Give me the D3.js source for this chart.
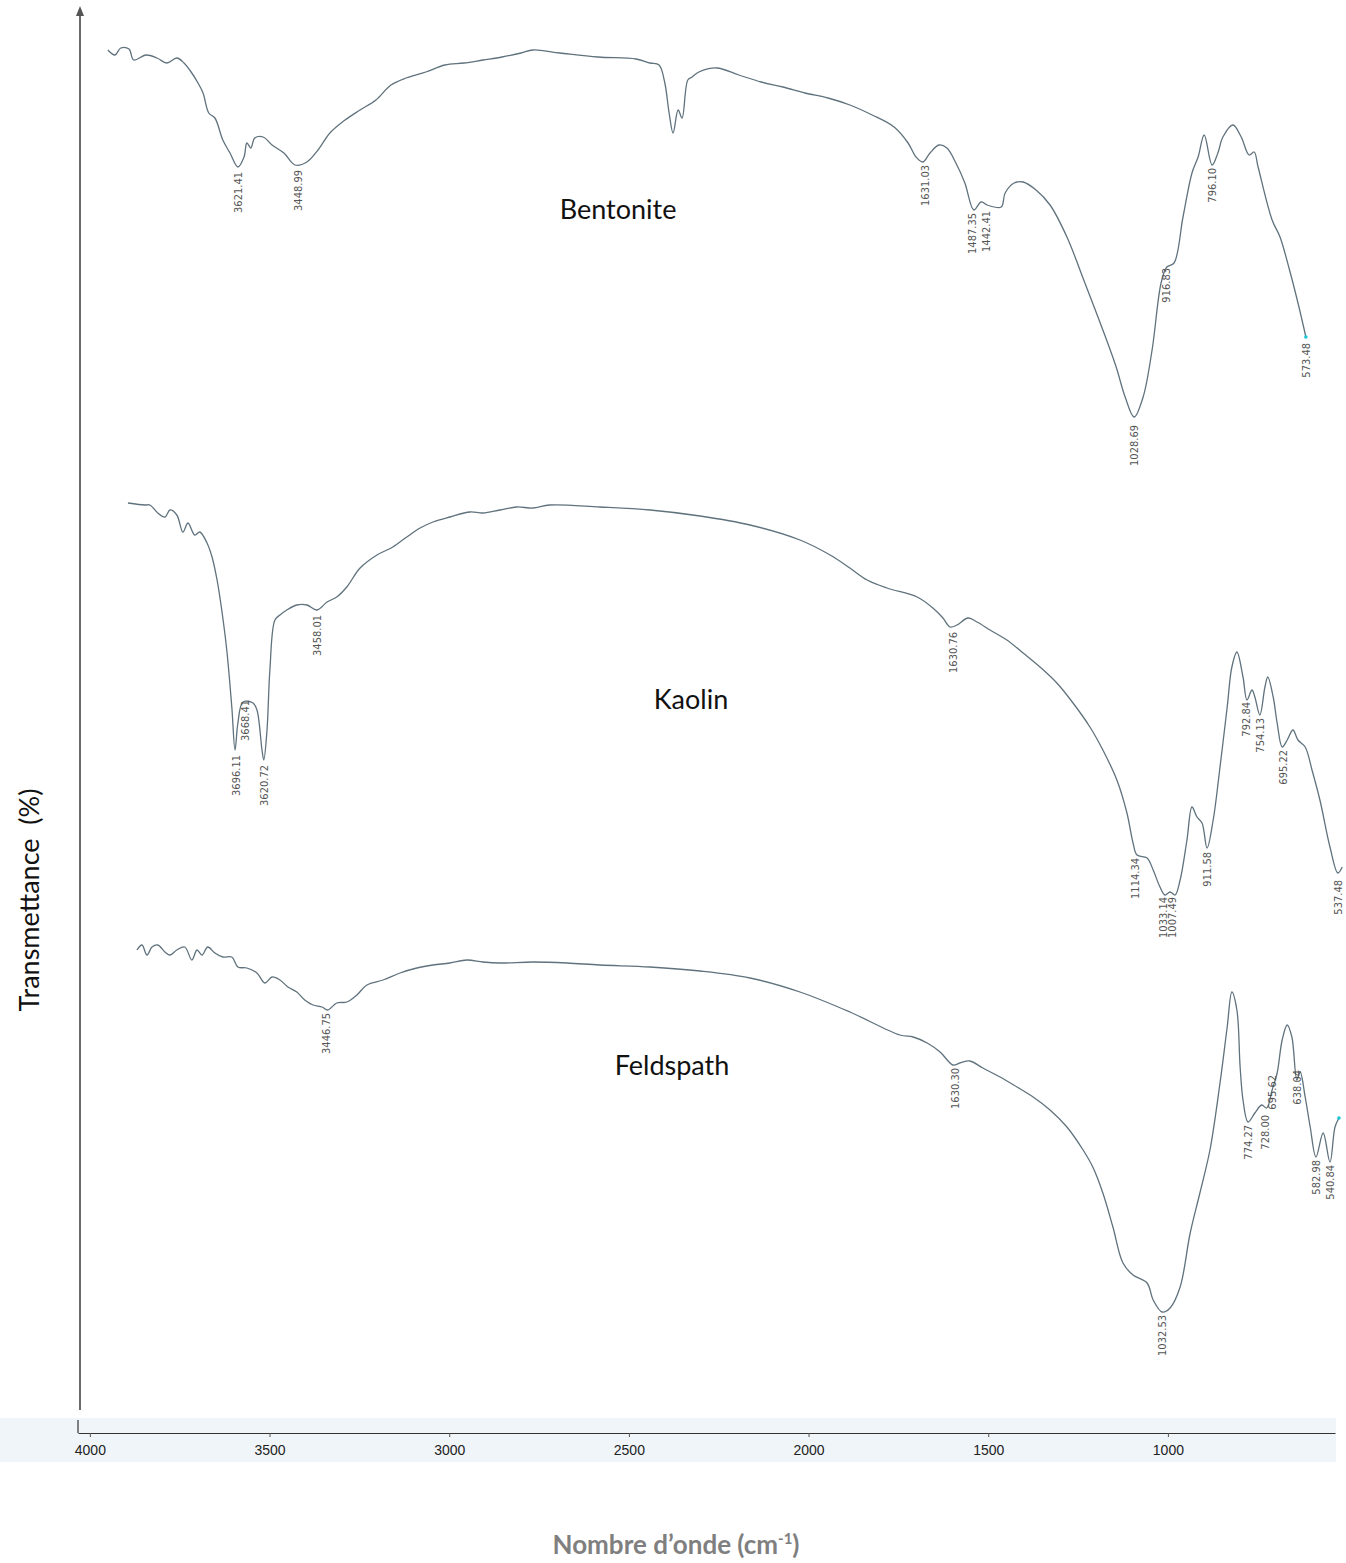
<!DOCTYPE html>
<html>
<head>
<meta charset="utf-8">
<script src="https://cdn.jsdelivr.net/npm/d3@7"></script>
<style>
  body { margin: 0; background: #fff; }
  svg text { white-space: pre; }
</style>
</head>
<body>
<script>
// FTIR spectra, wavenumber (cm-1) vs transmittance (stacked, arbitrary offset)
var bentoniteW = [3950,3930,3914,3891,3878,3844,3813,3786,3758,3738,3722,3699,3685,3669,3652,3630,3610,3588,3571,3563,3552,3541,3518,3493,3460,3429,3396,3365,3332,3290,3248,3204,3162,3120,3065,3012,2959,2906,2853,2800,2767,2692,2586,2480,2441,2416,2400,2388,2377,2363,2352,2336,2324,2305,2255,2194,2132,2071,2010,1946,1885,1823,1762,1723,1701,1682,1662,1637,1615,1590,1565,1540,1520,1503,1464,1453,1428,1403,1367,1328,1281,1231,1181,1144,1119,1094,1069,1044,1019,1003,983,958,933,916,899,877,861,847,819,796,774,760,749,710,688,663,638,616];
var bentoniteT = [136.0,135.5,136.2,136.1,135.0,135.5,135.2,134.7,135.2,134.7,134.0,132.7,131.7,129.7,129.2,127.0,125.7,124.3,125.3,126.7,126.2,127.2,127.3,126.5,125.7,124.5,124.8,126.0,127.7,129.0,130.0,131.0,132.5,133.2,133.8,134.5,134.7,135.0,135.3,135.7,136.0,135.7,135.3,135.1,134.7,134.5,132.7,129.7,127.7,130.0,129.2,133.0,133.3,133.8,134.2,133.5,132.8,132.3,131.7,131.2,130.5,129.5,128.3,126.7,125.3,124.8,125.7,126.5,126.2,124.7,122.7,120.0,120.8,120.5,120.3,121.7,122.7,122.8,122.0,120.5,117.3,112.7,108.0,104.3,101.3,99.3,101.3,106.0,112.7,114.3,114.7,119.3,123.7,125.3,127.5,124.5,125.7,127.3,128.5,127.3,125.5,125.8,124.3,119.0,117.3,114.2,110.7,107.3];

var kaolinW = [3894,3847,3833,3811,3791,3777,3758,3741,3727,3708,3694,3674,3660,3646,3633,3619,3605,3596,3588,3574,3546,3535,3521,3516,3507,3499,3485,3471,3452,3424,3396,3368,3340,3313,3285,3248,3201,3157,3118,3081,3045,2998,2942,2906,2859,2812,2767,2720,2581,2441,2302,2163,2024,1940,1885,1837,1782,1698,1654,1626,1606,1587,1556,1531,1495,1448,1403,1356,1309,1264,1217,1181,1142,1114,1097,1086,1058,1041,1022,1008,994,980,966,947,933,919,905,891,874,855,835,822,808,791,780,766,758,744,730,722,707,696,682,668,652,638,618,599,577,549,527,515];
var kaolinT = [90.7,90.5,90.5,89.7,89.3,90.0,89.5,87.8,88.7,87.5,87.8,86.7,85.3,83.0,80.0,76.0,70.3,66.0,68.7,70.8,70.7,70.0,66.0,65.0,68.0,74.0,79.0,79.5,80.0,80.5,80.5,80.0,80.8,81.3,82.3,84.2,85.5,86.3,87.3,88.2,88.8,89.3,89.8,89.7,90.0,90.3,90.2,90.5,90.3,90.0,89.4,88.5,87.0,85.5,84.2,83.0,82.2,81.3,80.2,79.2,78.3,78.5,79.2,78.8,78.0,77.0,75.7,74.3,72.7,70.7,68.3,66.0,63.0,59.7,56.7,55.5,55.2,54.0,52.3,51.5,51.8,51.5,53.0,57.0,60.3,59.3,58.7,56.2,59.0,64.3,70.3,74.3,75.8,73.3,71.0,72.0,71.3,69.5,72.3,73.3,71.3,68.7,66.3,67.0,68.0,67.0,66.3,64.0,61.0,56.3,53.7,54.3];

var feldspathW = [3869,3855,3841,3827,3811,3791,3777,3758,3736,3716,3702,3688,3672,3652,3630,3605,3588,3563,3535,3513,3493,3471,3449,3424,3402,3379,3354,3338,3313,3285,3257,3229,3184,3137,3090,3045,2998,2951,2906,2859,2767,2672,2581,2441,2302,2163,2024,1885,1746,1709,1670,1634,1598,1579,1551,1515,1467,1420,1375,1328,1281,1236,1209,1181,1153,1125,1097,1058,1041,1016,994,966,938,911,883,855,835,822,808,799,791,777,758,739,725,710,696,682,668,655,641,632,618,604,588,568,549,535,524];
var feldspathT = [46.0,46.5,45.5,46.3,46.5,45.8,45.5,46.0,46.3,45.0,46.0,45.5,46.3,45.7,45.3,45.3,44.3,44.2,43.7,42.7,43.3,43.0,42.3,41.8,41.0,40.5,40.3,40.0,40.7,40.8,41.5,42.5,43.0,43.7,44.2,44.5,44.7,45.0,44.8,44.7,44.8,44.7,44.5,44.3,43.9,43.2,41.8,39.8,37.5,37.3,36.7,35.8,34.5,34.7,34.9,34.2,33.3,32.3,31.3,30.0,28.3,26.0,24.3,21.7,18.3,14.7,13.5,12.7,11.0,9.8,10.2,12.3,17.7,21.7,26.0,32.7,38.3,41.8,40.0,34.3,31.0,28.8,29.7,30.5,30.2,32.0,33.7,37.0,38.5,37.3,33.0,33.8,31.3,28.3,25.3,27.7,24.8,28.3,29.2];

// peak annotations
var bentonitePeakW = [3588,3421,1676,1545,1506,1094,1005,877,616];
var bentonitePeakT = [123.8,124.0,124.5,119.7,119.9,98.5,114.2,124.2,106.7];
var bentonitePeakText = ["3621.41","3448.99","1631.03","1487.35","1442.41","1028.69","916.83","796.10","573.48"];

var kaolinPeakW = [3594,3569,3516,3368,1598,1092,1014,989,892,783,744,680,527];
var kaolinPeakT = [65.5,71.0,64.5,79.5,77.8,55.2,51.3,51.3,55.8,70.8,69.2,66.0,53.0];
var kaolinPeakText = ["3696.11","3668.41","3620.72","3458.01","1630.76","1114.34","1033.14","1007.49","911.58","792.84","754.13","695.22","537.48"];

var feldspathPeakW = [3343,1592,1016,777,730,710,641,588,549];
var feldspathPeakT = [39.7,34.2,9.5,28.5,29.5,33.5,34.0,25.0,24.5];
var feldspathPeakText = ["3446.75","1630.30","1032.53","774.27","728.00","695.62","638.04","582.98","540.84"];

var sampleNames = ["Bentonite","Kaolin","Feldspath"];
var sampleNameW = [2530,2327,2380];
var sampleNameT = [119.1,70.1,33.5];

var tickValues = [4000,3500,3000,2500,2000,1500,1000];

var width = 1346, height = 1563;
var lineColor = "#5f727d";

var svg = d3.select("body").append("svg")
            .attr("width", width)
            .attr("height", height);

var x = d3.scaleLinear().domain([4033, 535]).range([78, 1335]);
var y = d3.scaleLinear().domain([0, 140]).range([1410, 10]);

// light scanned band behind the x axis
svg.append("rect")
   .attr("x", 0).attr("y", 1418)
   .attr("width", 1336).attr("height", 44)
   .style("fill", "#f0f5fa");

// y axis with arrow at top
svg.append("line")
   .attr("x1", 80).attr("x2", 80)
   .attr("y1", 1410).attr("y2", 14)
   .style("stroke", "#5a5a5a")
   .style("stroke-width", 1.8);

svg.append("path")
   .attr("d", "M76,16 L80,6 L84,16 Z")
   .style("fill", "#555");

// x axis
var xAxis = d3.axisBottom(x)
              .tickValues(tickValues)
              .tickSizeInner(4)
              .tickSizeOuter(0)
              .tickPadding(8)
              .tickFormat(d3.format("d"));

var gx = svg.append("g")
            .attr("transform", "translate(0,1433)")
            .call(xAxis);
gx.select(".domain").style("stroke", "#333").style("stroke-width", 1.2);
gx.selectAll(".tick line").style("stroke", "#555");
gx.selectAll(".tick text")
  .style("font-family", "'Liberation Sans', Arial, sans-serif")
  .style("font-size", "14px")
  .style("fill", "#222");

svg.append("line")
   .attr("x1", 78).attr("x2", 78)
   .attr("y1", 1420).attr("y2", 1433)
   .style("stroke", "#333").style("stroke-width", 1.2);

// spectra
var line = d3.line()
             .x(function(d) { return x(d[0]); })
             .y(function(d) { return y(d[1]); })
             .curve(d3.curveCatmullRom.alpha(0.5));

var spectra = [
  { w: bentoniteW, t: bentoniteT, pw: bentonitePeakW, pt: bentonitePeakT, ptext: bentonitePeakText, endDot: true },
  { w: kaolinW, t: kaolinT, pw: kaolinPeakW, pt: kaolinPeakT, ptext: kaolinPeakText, endDot: false },
  { w: feldspathW, t: feldspathT, pw: feldspathPeakW, pt: feldspathPeakT, ptext: feldspathPeakText, endDot: true }
];

spectra.forEach(function(s) {
  var pts = s.w.map(function(w, i) { return [w, s.t[i]]; });
  svg.append("path")
     .datum(pts)
     .attr("d", line)
     .style("fill", "none")
     .style("stroke", lineColor)
     .style("stroke-width", 1.3);

  if (s.endDot) {
    var last = pts[pts.length - 1];
    svg.append("circle")
       .attr("cx", x(last[0])).attr("cy", y(last[1]))
       .attr("r", 1.8)
       .style("fill", "#19c8d8");
  }

  svg.selectAll(null)
     .data(s.ptext)
     .enter()
     .append("text")
     .attr("transform", function(d, i) {
        return "translate(" + x(s.pw[i]) + "," + y(s.pt[i]) + ") rotate(-90)";
     })
     .attr("dy", "0.35em")
     .attr("text-anchor", "end")
     .style("font-family", "'Liberation Sans Narrow', 'DejaVu Sans Condensed', Arial, sans-serif")
     .style("font-size", "11px")
     .style("fill", "#555")
     .text(function(d) { return d; });
});

// sample names
svg.selectAll(null)
   .data(sampleNames)
   .enter()
   .append("text")
   .attr("x", function(d, i) { return x(sampleNameW[i]); })
   .attr("y", function(d, i) { return y(sampleNameT[i]); })
   .attr("text-anchor", "middle")
   .style("font-family", "Lato, 'Open Sans', sans-serif")
   .style("font-size", "27px")
   .style("fill", "#111")
   .text(function(d) { return d; });

// axis titles
svg.append("text")
   .attr("transform", "translate(39,900) rotate(-90)")
   .attr("text-anchor", "middle")
   .style("font-family", "Lato, 'Open Sans', sans-serif")
   .style("font-size", "27px")
   .style("fill", "#111")
   .text("Transmettance  (%)");

var xt = svg.append("text")
   .attr("x", 676).attr("y", 1554)
   .attr("text-anchor", "middle")
   .style("font-family", "Lato, 'Open Sans', sans-serif")
   .style("font-weight", "bold")
   .style("font-size", "26px")
   .style("fill", "#7f7f7f");
xt.append("tspan").text("Nombre d\u2019onde (cm");
xt.append("tspan").attr("dy", -10).style("font-size", "15px").text("-1");
xt.append("tspan").attr("dy", 10).text(")");
</script>
</body>
</html>
